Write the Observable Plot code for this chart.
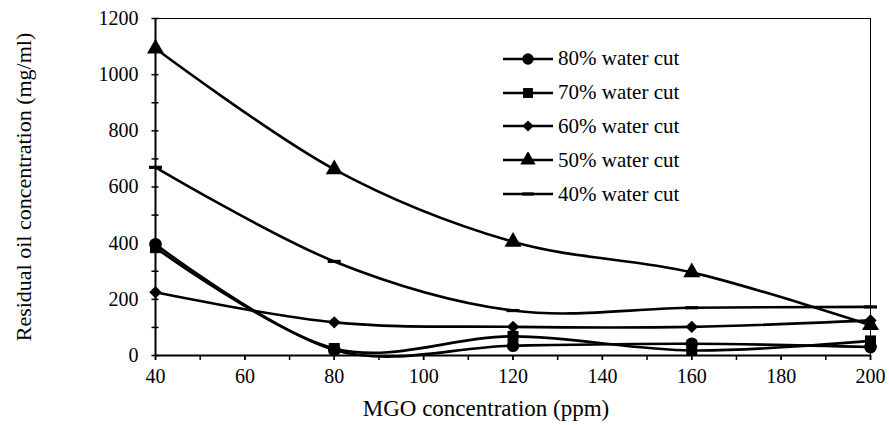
<!DOCTYPE html>
<html><head><meta charset="utf-8">
<script src="https://cdn.jsdelivr.net/npm/d3@7"></script>
<script src="https://cdn.jsdelivr.net/npm/@observablehq/plot@0.6"></script>
</head>
<body style="margin:0">
<div id="wrap" style="position:relative;width:889px;height:425px"><div id="legend" style="position:absolute;left:503px;top:42px"></div></div>
<script>
// ---- data ----
const mgo = [40, 80, 120, 160, 200];
const seriesNames = ["80% water cut", "70% water cut", "60% water cut", "50% water cut", "40% water cut"];
const wc80 = [396, 20, 35, 42, 30];
const wc70 = [384, 25, 68, 18, 52];
const wc60 = [225, 118, 102, 102, 125];
const wc50 = [1093, 663, 405, 296, 108];
const wc40 = [670, 335, 160, 170, 173];
const xTicks = [40, 60, 80, 100, 120, 140, 160, 180, 200];
const xMinor = d3.range(40, 201, 10);
const yTicks = [0, 200, 400, 600, 800, 1000, 1200];
const yMinor = d3.range(0, 1201, 100);
const xTitle = "MGO concentration (ppm)";
const yTitle = "Residual oil concentration (mg/ml)";

const dash = {
  draw(context, size) {
    const r = Math.sqrt(size / Math.PI);
    context.moveTo(-r, -1.6);
    context.lineTo(r, -1.6);
    context.lineTo(r, 1.6);
    context.lineTo(-r, 1.6);
    context.closePath();
  }
};
const symbols = ["circle", "square", "diamond2", "triangle", dash];
const radii = [6.3, 6.2, 5.6, 6.3, 6.5];
const values = [wc80, wc70, wc60, wc50, wc40];

const rows = [];
values.forEach((vals, i) => vals.forEach((v, j) => rows.push({series: seriesNames[i], idx: i, x: mgo[j], y: v})));

const marks = [
  Plot.frame({stroke: "#000", strokeWidth: 1}),
  Plot.axisX({ticks: xMinor, tickSize: 5, tickFormat: () => "", strokeWidth: 1.5}),
  Plot.axisX({ticks: xTicks, tickSize: 5, tickPadding: 8, fontSize: 20, tickFormat: d => String(d), strokeWidth: 1.5}),
  Plot.axisY({ticks: yMinor, tickSize: 7, dx: 3.5, tickFormat: () => "", strokeWidth: 1.5}),
  Plot.axisY({ticks: yTicks, tickSize: 0, tickPadding: 17, fontSize: 20, tickFormat: d => String(d)}),
  Plot.ruleX([40], {stroke: "#000", strokeWidth: 2}),
  Plot.ruleY([0], {stroke: "#000", strokeWidth: 2}),
];
values.forEach((vals, i) => {
  const data = rows.filter(r => r.idx === i);
  marks.push(Plot.line(data, {x: "x", y: "y", curve: "cardinal", stroke: "#000", strokeWidth: 2.6}));
});
values.forEach((vals, i) => {
  const data = rows.filter(r => r.idx === i);
  marks.push(Plot.dot(data, {x: "x", y: "y", symbol: () => symbols[i], r: radii[i], fill: "#000", stroke: "none"}));
});
marks.push(Plot.text([yTitle], {text: d => d, frameAnchor: "left", dx: -132, rotate: -90, fontSize: 22, textAnchor: "middle", lineAnchor: "middle"}));
marks.push(Plot.text([xTitle], {text: d => d, frameAnchor: "bottom", dy: 53, dx: -27, fontSize: 23, textAnchor: "middle", lineAnchor: "middle"}));

const chart = Plot.plot({
  width: 889,
  height: 425,
  marginLeft: 155,
  marginRight: 19,
  marginTop: 18,
  marginBottom: 70,
  style: {fontFamily: "Liberation Serif", color: "#000", background: "#fff"},
  x: {domain: [40, 200], label: null},
  y: {domain: [0, 1200], label: null},
  symbol: {type: "identity"},
  marks
});
const wrap = document.getElementById("wrap");
wrap.insertBefore(chart, wrap.firstChild);

// legend
const legend = document.getElementById("legend");
seriesNames.forEach((name, i) => {
  const item = document.createElement("div");
  item.style.display = "flex";
  item.style.alignItems = "center";
  item.style.height = "33.8px";
  item.style.font = "21px 'Liberation Serif'";
  item.style.color = "#000";
  const svg = d3.create("svg").attr("width", 50).attr("height", 16).style("margin-right", "5px");
  svg.append("line").attr("x1", 0).attr("x2", 50).attr("y1", 8).attr("y2", 8).attr("stroke", "#000").attr("stroke-width", 2.6);
  const sym = typeof symbols[i] === "string" ? {circle: d3.symbolCircle, square: d3.symbolSquare, diamond2: d3.symbolDiamond2, triangle: d3.symbolTriangle}[symbols[i]] : symbols[i];
  const r = radii[i] * 0.9;
  svg.append("path").attr("transform", "translate(25,8)").attr("d", d3.symbol(sym, Math.PI * r * r)()).attr("fill", "#000");
  item.appendChild(svg.node());
  const span = document.createElement("span");
  span.textContent = name;
  item.appendChild(span);
  legend.appendChild(item);
});
</script>
</body>
</html>
